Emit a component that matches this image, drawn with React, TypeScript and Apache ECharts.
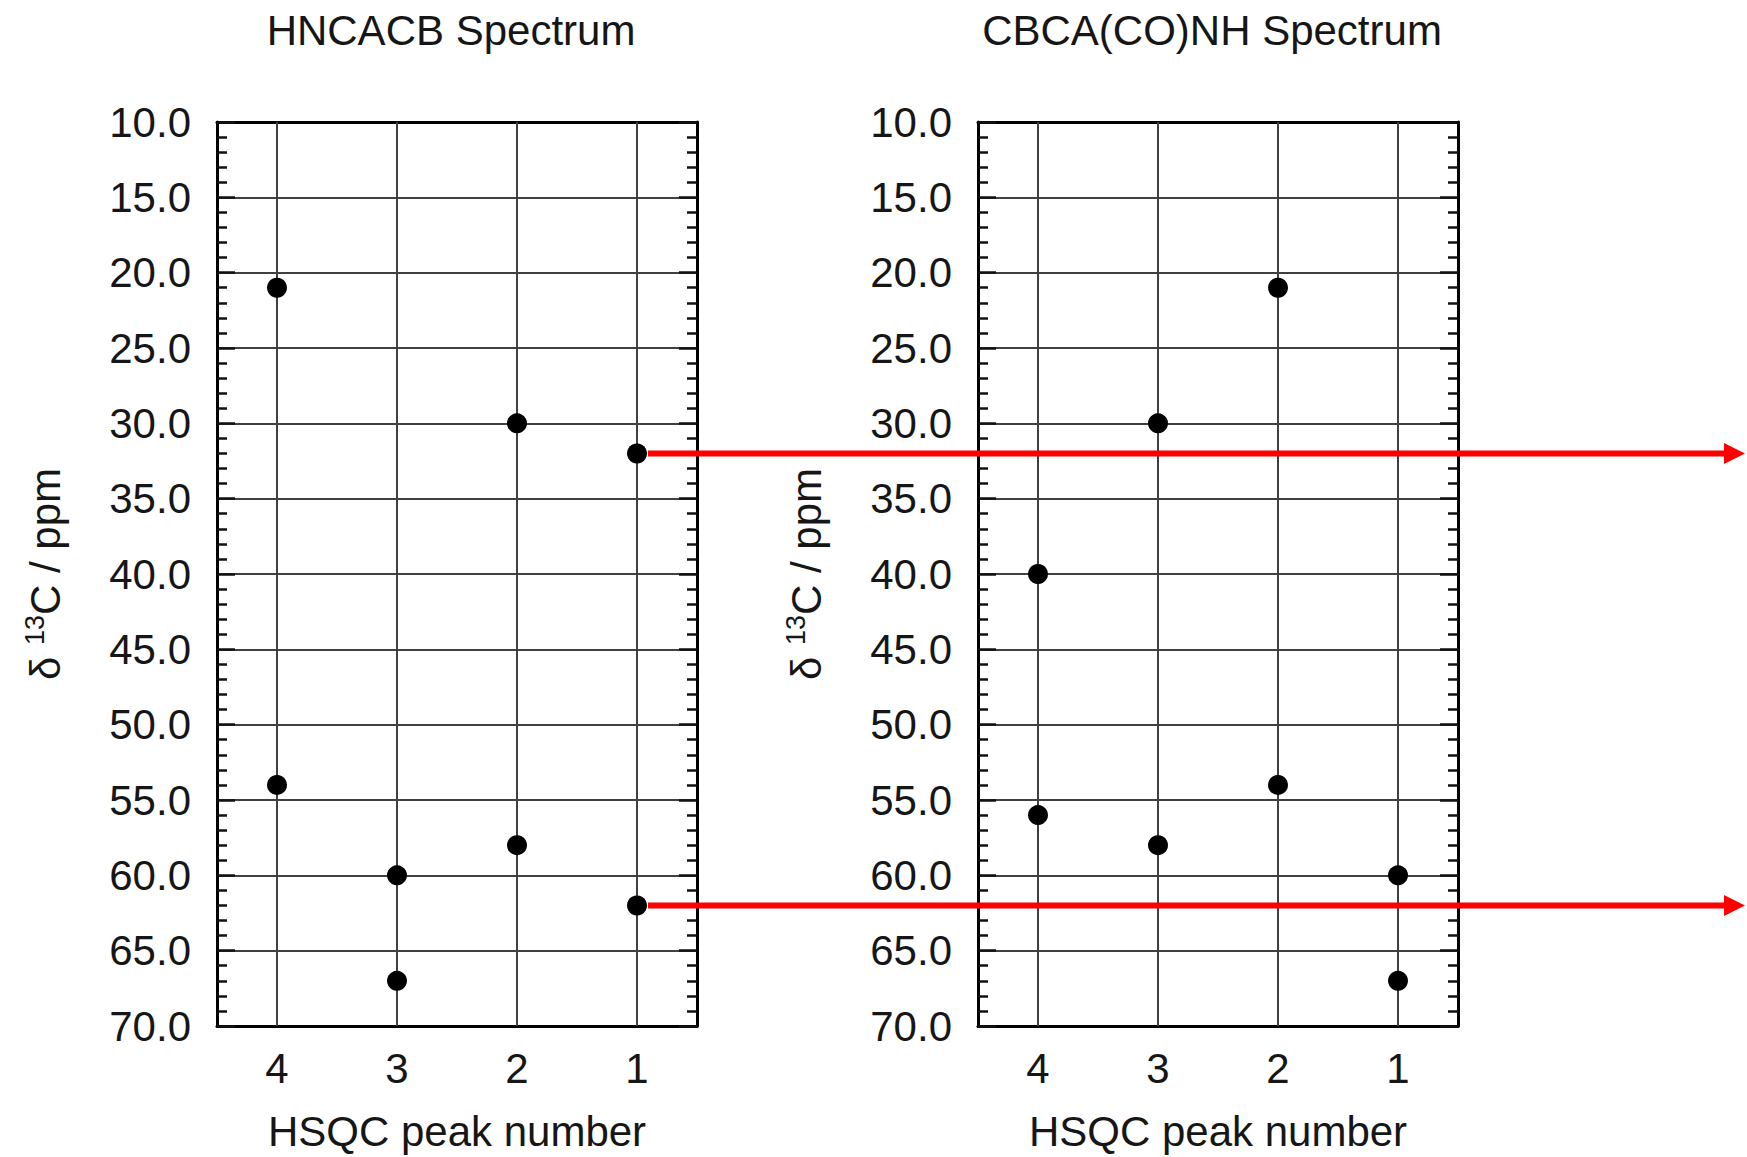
import React, { useEffect, useRef } from 'react';
import * as echarts from 'echarts';

const peakNumbers = ['4', '3', '2', '1'];
const hncacbPeaks: [string, number][] = [
  ['4', 21], ['4', 54],
  ['3', 60], ['3', 67],
  ['2', 30], ['2', 58],
  ['1', 32], ['1', 62],
];
const cbcaconhPeaks: [string, number][] = [
  ['4', 40], ['4', 56],
  ['3', 30], ['3', 58],
  ['2', 21], ['2', 54],
  ['1', 60], ['1', 67],
];
const panelTitles = ['HNCACB Spectrum', 'CBCA(CO)NH Spectrum'];
const yMin = 10;
const yMax = 70;
const yStep = 5;
const arrowPeak = '1';
const arrowShifts = [32, 62];

const FONT = '"Liberation Sans", Arial, Helvetica, sans-serif';
const TEXT = '#161616';
const FS = 42;

const grids = [
  { left: 217, top: 122, width: 480, height: 904 },
  { left: 978, top: 122, width: 480, height: 904 },
];

export default function App() {
  const ref = useRef<HTMLDivElement>(null);
  useEffect(() => {
    if (!ref.current) return;
    const chart = echarts.init(ref.current, null, { renderer: 'svg' });
    const panels = [hncacbPeaks, cbcaconhPeaks];
    const xAxis: any[] = [];
    const yAxis: any[] = [];
    const series: any[] = [];
    panels.forEach((data, i) => {
      xAxis.push({
        type: 'category',
        gridIndex: i,
        position: 'bottom',
        data: peakNumbers,
        boundaryGap: true,
        axisLine: { onZero: false, lineStyle: { color: '#000', width: 3 } },
        axisTick: { inside: true, alignWithLabel: true, length: 18, lineStyle: { color: '#111', width: 2.5 } },
        axisLabel: { fontSize: FS, color: TEXT, fontFamily: FONT, margin: 21 },
        splitLine: { show: false },
        name: 'HSQC peak number',
        nameLocation: 'middle',
        nameGap: 84,
        nameTextStyle: { fontSize: FS, color: TEXT, fontFamily: FONT },
      });
      xAxis.push({
        type: 'category',
        gridIndex: i,
        position: 'top',
        data: peakNumbers,
        boundaryGap: true,
        axisLine: { onZero: false, lineStyle: { color: '#000', width: 3 } },
        axisTick: { inside: true, alignWithLabel: true, length: 18, lineStyle: { color: '#111', width: 2.5 } },
        axisLabel: { show: false },
        splitLine: { show: false },
      });
      const yBase = {
        type: 'value',
        gridIndex: i,
        inverse: true,
        min: yMin,
        max: yMax,
        interval: yStep,
        axisLine: { show: true, onZero: false, lineStyle: { color: '#000', width: 3 } },
        axisTick: { show: true, inside: true, length: 18, lineStyle: { color: '#111', width: 2.5 } },
        minorTick: { show: true, splitNumber: 5, length: 10, lineStyle: { color: '#111', width: 2.5 } },
      };
      yAxis.push({
        ...yBase,
        position: 'left',
        axisLabel: {
          fontSize: FS, color: TEXT, fontFamily: FONT, margin: 26,
          formatter: (v: number) => v.toFixed(1),
        },
        splitLine: { show: true, lineStyle: { color: '#404040', width: 2 } },
        name: '{t|δ }{s|13}{t|C / ppm}',
        nameLocation: 'middle',
        nameGap: 148,
        nameTextStyle: {
          color: TEXT,
          fontFamily: FONT,
          fontSize: FS,
          rich: {
            t: { fontSize: FS, color: TEXT, fontFamily: FONT, lineHeight: 48 },
            s: { fontSize: 27, color: TEXT, fontFamily: FONT, lineHeight: 48, verticalAlign: 'top' },
          },
        },
      });
      yAxis.push({
        ...yBase,
        position: 'right',
        axisLabel: { show: false },
        splitLine: { show: false },
      });
      series.push({
        type: 'scatter',
        xAxisIndex: 2 * i,
        yAxisIndex: 2 * i,
        data,
        symbol: 'circle',
        symbolSize: 20,
        itemStyle: { color: '#000', opacity: 1 },
        z: 5,
        markLine: {
          silent: true,
          symbol: ['none', 'none'],
          label: { show: false },
          lineStyle: { color: '#404040', width: 2, type: 'solid' },
          emphasis: { disabled: true },
          z: 1,
          data: peakNumbers.map((p) => ({ xAxis: p })),
        },
      });
    });

    chart.setOption({
      animation: false,
      backgroundColor: '#fff',
      grid: grids.map((g) => ({ ...g, containLabel: false, outerBoundsMode: 'none' })),
      xAxis,
      yAxis,
      series,
    });

    const graphics: any[] = [];
    grids.forEach((g, i) => {
      graphics.push({
        type: 'text',
        x: g.left + g.width / 2 - 6,
        y: 30,
        style: {
          text: panelTitles[i],
          fontSize: FS,
          fontFamily: FONT,
          fill: TEXT,
          textAlign: 'center',
          textVerticalAlign: 'middle',
        },
      });
    });
    const W = chart.getWidth();
    arrowShifts.forEach((s) => {
      const p = chart.convertToPixel({ xAxisIndex: 0, yAxisIndex: 0 }, [peakNumbers.indexOf(arrowPeak), s]) as number[];
      const x0 = p[0] + 11;
      const y = p[1];
      const tip = W - 2;
      const headLen = 21;
      const headHalf = 10.5;
      graphics.push({
        type: 'line',
        z: 100,
        shape: { x1: x0, y1: y, x2: tip - headLen + 2, y2: y },
        style: { stroke: '#ff0000', lineWidth: 6 },
      });
      graphics.push({
        type: 'polygon',
        z: 100,
        shape: { points: [[tip, y], [tip - headLen, y - headHalf], [tip - headLen, y + headHalf]] },
        style: { fill: '#ff0000' },
      });
    });
    chart.setOption({ graphic: graphics });

    return () => chart.dispose();
  }, []);
  return (
    <div
      ref={ref}
      style={{ position: 'fixed', left: 0, top: 0, width: 1747, height: 1157, background: '#fff' }}
    />
  );
}
